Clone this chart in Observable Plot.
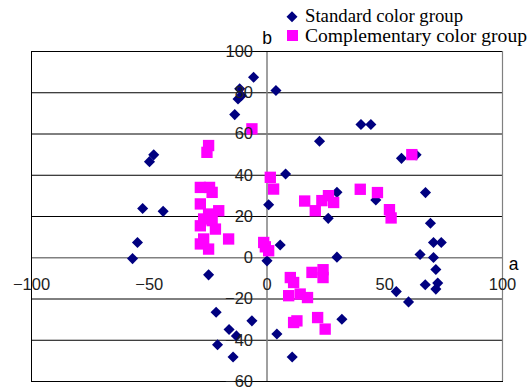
<!DOCTYPE html>
<html>
<head>
<meta charset="utf-8">
<script src="https://cdn.jsdelivr.net/npm/d3@7"></script>
<script src="https://cdn.jsdelivr.net/npm/@observablehq/plot@0.6"></script>
<style>
  html, body { margin: 0; padding: 0; background: #fff; }
  #wrap { position: relative; width: 531px; height: 392px; }
  #legend { position: absolute; left: 0; top: 0; pointer-events: none; }
</style>
</head>
<body>
<div id="wrap"></div>
<script>
// Standard color group (diamonds)
const standardA = [-5.7, 3.8, -11.6, -10.9, -12.3, -13.7, 22.3, 39.9, 44.1, 57.1, 63.3, -48.1, -49.9, 7.9, 29.7, 46.2, 67.3, 0.7, 26.0, -52.8, -44.1, 69.4, 70.7, 74.0, 5.6, -55.0, -57.1, 29.7, 65.0, 70.7, 0.0, 71.7, 67.2, 72.5, 71.7, 54.9, 60.1, -24.8, -21.6, -6.4, -16.1, -13.0, -21.0, -14.4, 31.8, 4.2, 10.7];
const standardB = [87.5, 81.1, 81.9, 78.6, 77.0, 69.4, 56.5, 64.6, 64.6, 48.2, 49.9, 49.9, 46.6, 40.6, 31.7, 28.0, 31.6, 25.7, 19.1, 23.9, 22.5, 16.7, 7.4, 7.4, 6.2, 7.4, -0.4, 0.3, 1.6, 0.1, -1.5, -5.7, -13.1, -12.3, -15.2, -16.4, -21.4, -8.3, -26.4, -30.6, -34.8, -37.9, -42.2, -48.1, -29.8, -37.0, -48.1];

// Complementary color group (squares)
const complementaryA = [-6.4, -24.8, -25.5, -28.3, -24.4, -23.3, -28.3, -20.5, -24.8, -26.9, -23.3, -28.3, -21.9, -16.3, -26.9, -28.3, -24.8, 1.4, 2.8, -1.4, 0.7, -0.7, 16.0, 20.5, 23.3, 26.1, 28.3, 39.6, 46.9, 52.0, 52.7, 61.5, 9.9, 11.3, 19.1, 23.8, 23.8, 9.2, 14.1, 17.2, 11.3, 12.7, 21.5, 24.7];
const complementaryB = [62.5, 54.4, 51.1, 34.1, 34.1, 31.7, 26.1, 22.8, 21.2, 18.8, 18.0, 15.5, 13.9, 9.1, 9.1, 6.7, 4.2, 39.0, 33.3, 7.4, 3.4, 5.3, 27.5, 22.8, 27.7, 30.1, 26.8, 33.2, 31.6, 23.3, 19.3, 50.0, -9.6, -12.0, -7.1, -5.8, -9.6, -18.4, -17.6, -19.3, -31.4, -30.6, -29.0, -34.6];

const yTicks = [100, 80, 60, 40, 20, 0, -20, -40, -60];
const xTicks = [-100, -50, 0, 50, 100];
const seriesNames = ["Standard color group", "Complementary color group"];
const seriesColors = ["#000080", "#FF00FF"];

const fmt = d => d < 0 ? "\u2212" + Math.abs(d) : String(d);
const standard = standardA.map((a, i) => ({a, b: standardB[i]}));
const complementary = complementaryA.map((a, i) => ({a, b: complementaryB[i]}));

const font = "'Liberation Sans', Arial, sans-serif";

const chart = Plot.plot({
  width: 531,
  height: 392,
  marginLeft: 31,
  marginRight: 29,
  marginTop: 51,
  marginBottom: 11,
  style: {fontFamily: font, background: "#fff", overflow: "visible"},
  x: {domain: [-100, 100], axis: null},
  y: {domain: [-60, 100], axis: null},
  marks: [
    Plot.ruleY(yTicks.filter(d => d !== 0), {stroke: "#000", strokeWidth: 1}),
    Plot.ruleY([0], {stroke: "#808080", strokeWidth: 1.5}),
    Plot.ruleX([0], {stroke: "#808080", strokeWidth: 1.5}),
    Plot.frame({stroke: "#000"}),
    Plot.ruleX([100], {stroke: "#808080", strokeWidth: 1.2}),
    Plot.dot(standard, {x: "a", y: "b", symbol: "diamond2", r: 5, fill: seriesColors[0], stroke: "none"}),
    Plot.dot(complementary, {x: "a", y: "b", symbol: "square", r: 6.4, fill: seriesColors[1], stroke: "none"}),
    Plot.text(yTicks, {x: d => 0, y: d => d, text: fmt, textAnchor: "end", dx: -14, fontSize: 16.5, fill: "#222"}),
    Plot.text(xTicks, {x: d => d, y: d => 0, text: fmt, dy: 26.5, fontSize: 16.5, fill: "#222"}),
    Plot.text(["b"], {frameAnchor: "top", text: d => d, dy: -20, fontSize: 17.5, fill: "#000"}),
    Plot.text(["a"], {x: d => 100, y: d => 0, text: d => d, dx: 11, dy: 7, fontSize: 17.5, fill: "#000"})
  ]
});

const wrap = document.getElementById("wrap");
wrap.appendChild(chart);

// Legend overlay (top right)
const ns = "http://www.w3.org/2000/svg";
const leg = document.createElementNS(ns, "svg");
leg.setAttribute("id", "legend");
leg.setAttribute("width", 531);
leg.setAttribute("height", 48);
const widths = [158, 222];
const baselines = [22, 42];
seriesNames.forEach((name, i) => {
  const cy = i === 0 ? 16.8 : 35.5;
  let m;
  if (i === 0) {
    m = document.createElementNS(ns, "path");
    m.setAttribute("d", `M292,${cy - 5.5}L297.5,${cy}L292,${cy + 5.5}L286.5,${cy}Z`);
  } else {
    m = document.createElementNS(ns, "rect");
    m.setAttribute("x", 287);
    m.setAttribute("y", cy - 5.5);
    m.setAttribute("width", 11);
    m.setAttribute("height", 11);
  }
  m.setAttribute("fill", seriesColors[i]);
  leg.appendChild(m);
  const t = document.createElementNS(ns, "text");
  t.setAttribute("x", 305);
  t.setAttribute("y", baselines[i]);
  t.setAttribute("font-family", "'Liberation Serif', 'Times New Roman', serif");
  t.setAttribute("font-size", 18);
  t.setAttribute("fill", "#000");
  t.setAttribute("textLength", widths[i]);
  t.setAttribute("lengthAdjust", "spacingAndGlyphs");
  t.textContent = name;
  leg.appendChild(t);
});
wrap.appendChild(leg);
</script>
</body>
</html>
